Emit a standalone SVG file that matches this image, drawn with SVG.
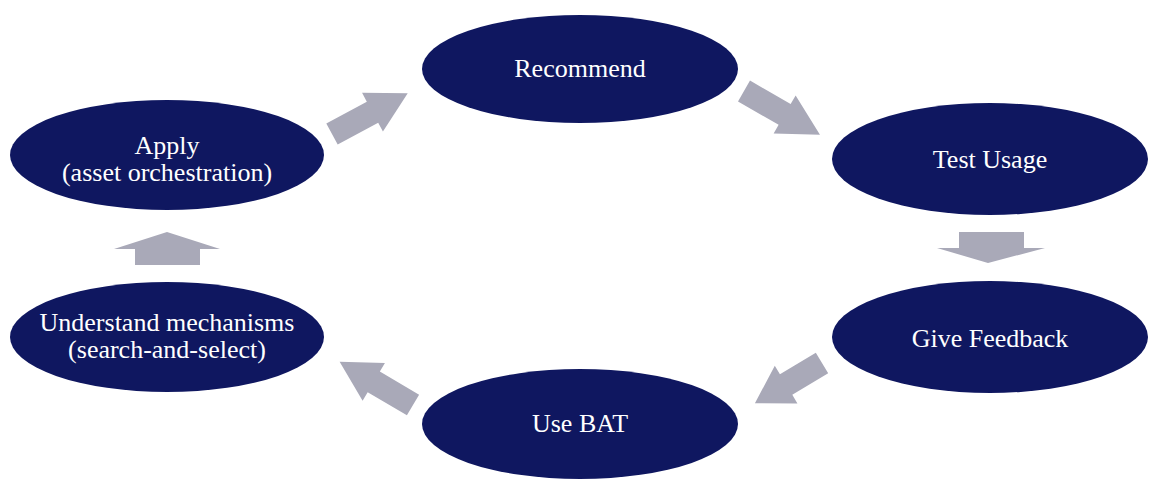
<svg xmlns="http://www.w3.org/2000/svg" width="1149" height="484" viewBox="0 0 1149 484">
  <style>
    .node ellipse { fill: #0f1760; }
    .node text { fill: #ffffff; font-family: "Liberation Serif", "Times New Roman", serif; font-size: 26px; text-anchor: middle; }
    .arrow { fill: #a9a9b8; }
  </style>
  <defs>
    <!-- block arrow pointing right, origin at tail centre -->
    <path id="blk" d="M0,-12 L46,-12 L46,-22 L86,0 L46,22 L46,12 L0,12 Z"/>
  </defs>
  <rect width="1149" height="484" fill="#ffffff"/>

  <g id="connectors" class="arrow">
    <use href="#blk" transform="translate(332,134) rotate(-28.3) scale(1,1)"/>
    <use href="#blk" transform="translate(744,91) rotate(30) scale(1.02,1)"/>
    <polygon points="959,232 1024,232 1024,248 1045,248 988,263 937,248 959,248"/>
    <use href="#blk" transform="translate(822,363) rotate(149) scale(0.91,1)"/>
    <use href="#blk" transform="translate(413,405) rotate(210.5) scale(0.99,1)"/>
    <polygon points="135,265 200,265 200,249 220,249 167,232 114,249 135,249"/>
  </g>

  <g id="node-recommend" class="node">
    <ellipse cx="580" cy="69" rx="158" ry="54"/>
    <text x="580" y="77">Recommend</text>
  </g>
  <g id="node-test-usage" class="node">
    <ellipse cx="990" cy="159" rx="158" ry="56"/>
    <text x="990" y="168">Test Usage</text>
  </g>
  <g id="node-give-feedback" class="node">
    <ellipse cx="990" cy="337" rx="158" ry="56"/>
    <text x="990" y="347">Give Feedback</text>
  </g>
  <g id="node-use-bat" class="node">
    <ellipse cx="580" cy="424" rx="158" ry="55"/>
    <text x="580" y="432">Use BAT</text>
  </g>
  <g id="node-understand" class="node">
    <ellipse cx="167" cy="337" rx="157" ry="55"/>
    <text x="167" y="331">Understand mechanisms</text>
    <text x="167" y="358">(search-and-select)</text>
  </g>
  <g id="node-apply" class="node">
    <ellipse cx="167" cy="155" rx="157" ry="55"/>
    <text x="167" y="154">Apply</text>
    <text x="167" y="181">(asset orchestration)</text>
  </g>
</svg>
